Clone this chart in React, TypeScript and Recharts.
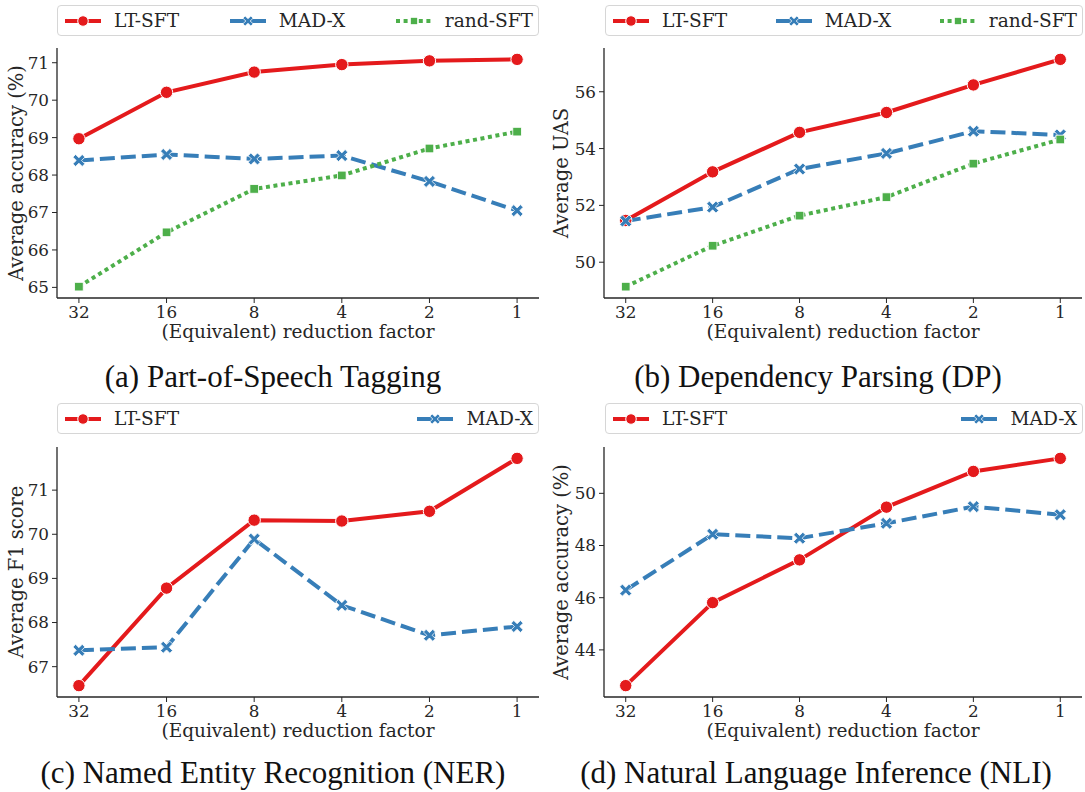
import React from "react";
import { LineChart, Line, XAxis, YAxis } from "recharts";

// ---------- data ----------
const factors = ["32", "16", "8", "4", "2", "1"];

const posLtSft = [68.97, 70.21, 70.75, 70.95, 71.05, 71.09];
const posMadX = [68.39, 68.55, 68.43, 68.52, 67.83, 67.05];
const posRandSft = [65.02, 66.47, 67.63, 67.99, 68.71, 69.16];
const posTicks = [65, 66, 67, 68, 69, 70, 71];

const dpLtSft = [51.47, 53.18, 54.57, 55.27, 56.24, 57.14];
const dpMadX = [51.45, 51.94, 53.28, 53.83, 54.61, 54.48];
const dpRandSft = [49.14, 50.58, 51.64, 52.29, 53.47, 54.32];
const dpTicks = [50, 52, 54, 56];

const nerLtSft = [66.57, 68.78, 70.32, 70.3, 70.52, 71.72];
const nerMadX = [67.37, 67.44, 69.89, 68.39, 67.71, 67.91];
const nerTicks = [67, 68, 69, 70, 71];

const nliLtSft = [42.63, 45.81, 47.45, 49.47, 50.84, 51.34];
const nliMadX = [46.29, 48.43, 48.28, 48.85, 49.49, 49.18];
const nliTicks = [44, 46, 48, 50];

const seriesNames = ["LT-SFT", "MAD-X", "rand-SFT"];
const xAxisLabel = "(Equivalent) reduction factor";

// ---------- styles ----------
const FONT = "'DejaVu Serif', serif";
const CAPTION_FONT = "'Liberation Serif', 'DejaVu Serif', serif";
const TEXT = "#262626";
const FRAME = "#262626";
const TICK_SIZE = 16.8;
const XLABEL_SIZE = 18.5;
const YLABEL_SIZE = 19.5;
const LEGEND_SIZE = 18.6;

const STYLE: Record<string, { color: string; dash?: string; marker: string }> = {
  "LT-SFT": { color: "#e41a1c", marker: "circle" },
  "MAD-X": { color: "#377eb8", dash: "15 6", marker: "x" },
  "rand-SFT": { color: "#4daf4a", dash: "4 3.6", marker: "square" },
};

function xPolygon(cx: number, cy: number, s: number, a: number) {
  const pts = [
    [-a, -s], [a, -s], [a, -a], [s, -a], [s, a], [a, a],
    [a, s], [-a, s], [-a, a], [-s, a], [-s, -a], [-a, -a],
  ];
  const r = Math.SQRT1_2;
  return pts
    .map(([x, y]) => `${(cx + (x - y) * r).toFixed(2)},${(cy + (x + y) * r).toFixed(2)}`)
    .join(" ");
}

function Marker({ kind, cx, cy, color, scale = 1 }: { kind: string; cx: number; cy: number; color: string; scale?: number }) {
  if (kind === "circle") {
    return <circle cx={cx} cy={cy} r={6.2 * scale} fill={color} stroke="#ffffff" strokeWidth={1} />;
  }
  if (kind === "x") {
    return <polygon points={xPolygon(cx, cy, 6.6 * scale, 1.9 * scale)} fill={color} stroke="#ffffff" strokeWidth={0.8} />;
  }
  const h = 4.3 * scale;
  return <rect x={cx - h} y={cy - h} width={2 * h} height={2 * h} fill={color} stroke="#ffffff" strokeWidth={0.8} />;
}

function makeDot(kind: string, color: string) {
  return (props: any) => {
    const { cx, cy, index } = props;
    if (cx == null || cy == null) return <g key={`d-${index}`} />;
    return (
      <g key={`d-${index}`}>
        <Marker kind={kind} cx={cx} cy={cy} color={color} />
      </g>
    );
  };
}

type Panel = {
  id: string;
  left: number;
  top: number;
  width: number;
  height: number;
  yAxisWidth: number;
  margin: { top: number; right: number; bottom: number; left: number };
  yLabel: string;
  ticks: number[];
  series: { name: string; values: number[] }[];
  caption: string;
  captionX: number;
  captionY: number;
  legendBox: { left: number; top: number; width: number; height: number };
};

const panels: Panel[] = [
  {
    id: "a",
    left: 0,
    top: 0,
    width: 545,
    height: 400,
    yAxisWidth: 57,
    margin: { top: 48, right: 6, bottom: 42, left: 0 },
    yLabel: "Average accuracy (%)",
    ticks: posTicks,
    series: [
      { name: seriesNames[0], values: posLtSft },
      { name: seriesNames[1], values: posMadX },
      { name: seriesNames[2], values: posRandSft },
    ],
    caption: "(a) Part-of-Speech Tagging",
    captionX: 273,
    captionY: 377,
    legendBox: { left: 57, top: 5, width: 482, height: 31 },
  },
  {
    id: "b",
    left: 545,
    top: 0,
    width: 540,
    height: 400,
    yAxisWidth: 59,
    margin: { top: 48, right: 3, bottom: 42, left: 0 },
    yLabel: "Average UAS",
    ticks: dpTicks,
    series: [
      { name: seriesNames[0], values: dpLtSft },
      { name: seriesNames[1], values: dpMadX },
      { name: seriesNames[2], values: dpRandSft },
    ],
    caption: "(b) Dependency Parsing (DP)",
    captionX: 818,
    captionY: 377,
    legendBox: { left: 605, top: 5, width: 478, height: 31 },
  },
  {
    id: "c",
    left: 0,
    top: 400,
    width: 545,
    height: 392,
    yAxisWidth: 57,
    margin: { top: 47, right: 6, bottom: 35, left: 0 },
    yLabel: "Average F1 score",
    ticks: nerTicks,
    series: [
      { name: seriesNames[0], values: nerLtSft },
      { name: seriesNames[1], values: nerMadX },
    ],
    caption: "(c) Named Entity Recognition (NER)",
    captionX: 273,
    captionY: 773,
    legendBox: { left: 57, top: 403, width: 482, height: 31 },
  },
  {
    id: "d",
    left: 545,
    top: 400,
    width: 540,
    height: 392,
    yAxisWidth: 59,
    margin: { top: 47, right: 3, bottom: 35, left: 0 },
    yLabel: "Average accuracy (%)",
    ticks: nliTicks,
    series: [
      { name: seriesNames[0], values: nliLtSft },
      { name: seriesNames[1], values: nliMadX },
    ],
    caption: "(d) Natural Language Inference (NLI)",
    captionX: 816,
    captionY: 773,
    legendBox: { left: 605, top: 403, width: 478, height: 31 },
  },
];

function LegendBox({ panel }: { panel: Panel }) {
  const b = panel.legendBox;
  return (
    <div
      style={{
        position: "absolute",
        left: b.left,
        top: b.top,
        width: b.width,
        height: b.height,
        boxSizing: "border-box",
        border: "1px solid #d6d6d6",
        borderRadius: 4,
        background: "#ffffff",
        display: "flex",
        alignItems: "center",
        justifyContent: "space-between",
        padding: "0 5px 0 6px",
        fontFamily: FONT,
        fontSize: LEGEND_SIZE,
        color: TEXT,
      }}
    >
      {panel.series.map((s) => {
        const st = STYLE[s.name];
        return (
          <div key={s.name} style={{ display: "flex", alignItems: "center" }}>
            <svg width={38} height={20} style={{ marginRight: 12 }}>
              <line
                x1={1}
                y1={10}
                x2={37}
                y2={10}
                stroke={st.color}
                strokeWidth={4}
                strokeDasharray={st.dash}
              />
              <Marker kind={st.marker} cx={19} cy={10} color={st.color} scale={0.85} />
            </svg>
            <span style={{ lineHeight: "20px" }}>{s.name}</span>
          </div>
        );
      })}
    </div>
  );
}

function PanelChart({ panel }: { panel: Panel }) {
  const keys = panel.series.map((s, i) => `s${i}`);
  const data = factors.map((f, i) => {
    const row: Record<string, any> = { factor: f };
    panel.series.forEach((s, j) => {
      row[keys[j]] = s.values[i];
    });
    return row;
  });
  const all = panel.series.flatMap((s) => s.values);
  const mn = Math.min(...all);
  const mx = Math.max(...all);
  const pad = (mx - mn) * 0.05;
  const domain: [number, number] = [mn - pad, mx + pad];
  const plotW = panel.width - panel.yAxisWidth - panel.margin.right;
  const xPad = plotW / 5.5 / 4;
  const tickStyle = { fill: TEXT, fontSize: TICK_SIZE, fontFamily: FONT };

  return (
    <div style={{ position: "absolute", left: panel.left, top: panel.top }}>
      <LineChart width={panel.width} height={panel.height} data={data} margin={panel.margin}>
        <XAxis
          dataKey="factor"
          type="category"
          padding={{ left: xPad, right: xPad }}
          height={60}
          tick={tickStyle}
          tickSize={5}
          tickMargin={3}
          axisLine={{ stroke: FRAME, strokeWidth: 1.3 }}
          tickLine={{ stroke: FRAME }}
          interval={0}
          label={(props: any) => {
            const vb = props.viewBox || {};
            return (
              <text
                x={vb.x + vb.width / 2}
                y={vb.y + 40}
                textAnchor="middle"
                fill={TEXT}
                fontSize={XLABEL_SIZE}
                fontFamily={FONT}
              >
                {xAxisLabel}
              </text>
            );
          }}
        />
        <XAxis
          xAxisId="top"
          orientation="top"
          dataKey="factor"
          type="category"
          padding={{ left: xPad, right: xPad }}
          height={0}
          tick={false}
          tickLine={false}
          axisLine={{ stroke: FRAME, strokeWidth: 1.3 }}
        />
        <YAxis
          type="number"
          domain={domain}
          ticks={panel.ticks}
          allowDataOverflow
          width={panel.yAxisWidth}
          tick={tickStyle}
          tickSize={5}
          tickMargin={3}
          axisLine={{ stroke: FRAME, strokeWidth: 1.3 }}
          tickLine={{ stroke: FRAME }}
          label={(props: any) => {
            const vb = props.viewBox || {};
            const cx = vb.x + 16;
            const cy = vb.y + vb.height / 2;
            return (
              <text
                x={cx}
                y={cy}
                textAnchor="middle"
                dominantBaseline="central"
                transform={`rotate(-90 ${cx} ${cy})`}
                fill={TEXT}
                fontSize={YLABEL_SIZE}
                fontFamily={FONT}
              >
                {panel.yLabel}
              </text>
            );
          }}
        />
        <YAxis
          yAxisId="right"
          orientation="right"
          type="number"
          domain={domain}
          allowDataOverflow
          width={0}
          tick={false}
          tickLine={false}
          axisLine={{ stroke: FRAME, strokeWidth: 1.3 }}
        />
        {panel.series.map((s, j) => {
          const st = STYLE[s.name];
          return (
            <Line
              key={s.name}
              type="linear"
              dataKey={keys[j]}
              name={s.name}
              stroke={st.color}
              strokeWidth={4}
              strokeDasharray={st.dash}
              dot={makeDot(st.marker, st.color)}
              activeDot={false}
              isAnimationActive={false}
            />
          );
        })}
      </LineChart>
    </div>
  );
}

export default function App() {
  return (
    <div
      style={{
        position: "absolute",
        left: 0,
        top: 0,
        width: 1085,
        height: 792,
        background: "#ffffff",
        overflow: "hidden",
      }}
    >
      {panels.map((p) => (
        <PanelChart key={p.id} panel={p} />
      ))}
      {panels.map((p) => (
        <LegendBox key={`l-${p.id}`} panel={p} />
      ))}
      {panels.map((p) => (
        <div
          key={`c-${p.id}`}
          style={{
            position: "absolute",
            left: p.captionX - 300,
            width: 600,
            top: p.captionY - 20,
            height: 40,
            lineHeight: "40px",
            textAlign: "center",
            fontFamily: CAPTION_FONT,
            fontSize: 31,
            color: "#111111",
            whiteSpace: "nowrap",
          }}
        >
          {p.caption}
        </div>
      ))}
    </div>
  );
}
